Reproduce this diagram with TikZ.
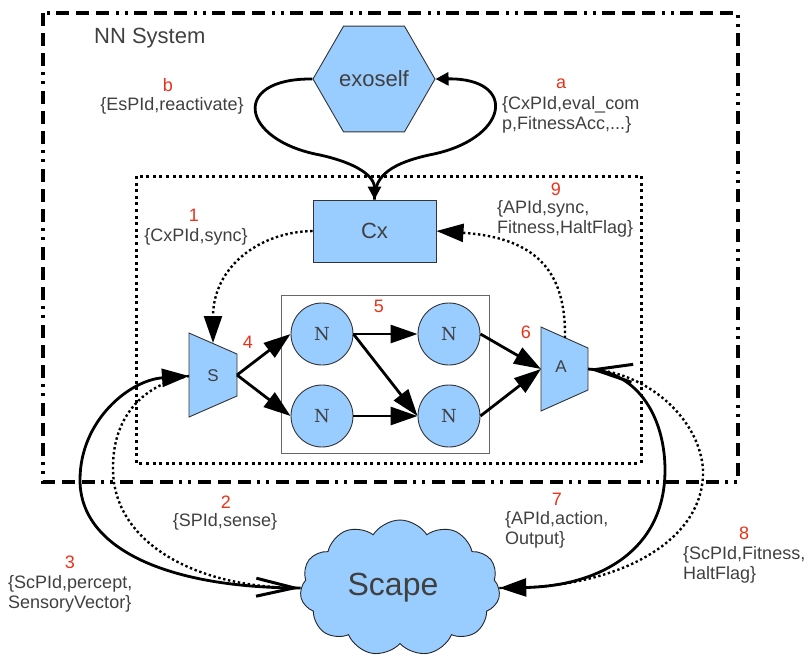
\documentclass[tikz,border=0pt]{standalone}
\usepackage{fontspec}
\setmainfont{Liberation Sans}
\newfontfamily\nfont{DejaVu Serif}
\usetikzlibrary{arrows.meta,shapes.geometric,shapes.symbols}
\definecolor{boxblue}{HTML}{99CCFF}
\definecolor{txtgray}{HTML}{404040}
\definecolor{numred}{HTML}{E8321A}
\begin{document}
\begin{tikzpicture}[x=1pt,y=-1pt,
  shapeline/.style={draw=black!80,line width=0.9pt,fill=boxblue},
  lbl/.style={text=txtgray,font=\fontsize{18}{20}\selectfont,inner sep=0pt,align=left},
  num/.style={text=numred,font=\fontsize{18}{20}\selectfont,inner sep=0pt,anchor=base},
  conn/.style={line width=2.8pt},
  dotconn/.style={line width=2.4pt,dash pattern=on 2.4pt off 2.6pt},
  bighead/.style={-{Triangle[length=27pt,width=18pt]}},
  smallhead/.style={-{Triangle[length=13pt,width=13pt]}},
  openhead/.style={-{Straight Barb[length=38pt,width=18pt,line width=3pt]}},
]
\useasboundingbox (0,0) rectangle (809,657);

% NN system frame and the inner agent frame
\draw[line width=3.4pt,dash pattern=on 13pt off 7pt on 13pt off 7pt on 13pt off 6pt on 3pt off 6pt on 3pt off 7pt]
  (43,13) rectangle (738,482);
\node[text=txtgray,font=\fontsize{22}{24}\selectfont,inner sep=0pt,anchor=base west] (title) at (94,43) {NN System};
\draw[line width=3pt,dash pattern=on 3pt off 3.6pt] (136,176) rectangle (641,463);

% neural network box
\draw[draw=black!60,line width=1pt] (281,295) rectangle (489,453);

% exoself and cortex
\node[shapeline,regular polygon,regular polygon sides=6,minimum size=122pt,inner sep=0pt,
      text=txtgray,font=\fontsize{22}{24}\selectfont] (exo) at (374,79) {exoself};
\node[shapeline,rectangle,minimum width=123pt,minimum height=62pt,inner sep=0pt,
      text=txtgray,font=\fontsize{22}{24}\selectfont] (cx) at (374.5,231) {Cx};

% sensor and actuator
\filldraw[shapeline] (189,333) -- (237,354) -- (237,396) -- (189,417) -- cycle;
\node[text=txtgray,font=\fontsize{17}{19}\selectfont,inner sep=0pt,anchor=base] (S) at (213,381) {S};
\coordinate (S-e) at (237,375);
\coordinate (S-w) at (189,376);
\coordinate (S-n) at (213,343);
\filldraw[shapeline] (541,327) -- (588,348) -- (588,390) -- (541,411) -- cycle;
\node[text=txtgray,font=\fontsize{17}{19}\selectfont,inner sep=0pt,anchor=base] (A) at (561,372) {A};
\coordinate (A-w) at (541,369);
\coordinate (A-e) at (588,369);
\coordinate (A-n) at (565,338);

% neurons
\foreach \nm/\px/\py in {n1/322/334,n2/449/334,n3/322/416,n4/449/416}
  \node[shapeline,circle,minimum size=62pt,inner sep=0pt,text=txtgray,
        font=\nfont\fontsize{18}{20}\selectfont] (\nm) at (\px,\py) {N};

% scape
\node[shapeline,draw=black!85,cloud,cloud puffs=11,cloud puff arc=115,aspect=1.47,
      minimum width=200pt,minimum height=136pt,inner sep=0pt,
      text=txtgray,font=\fontsize{32}{34}\selectfont] (scape) at (400,588) {Scape\hspace*{14pt}};

% exoself <-> cortex
\draw[conn,smallhead] (exo.west) .. controls (230,78) and (240,140) .. (320,155)
  .. controls (365,165) and (374.5,180) .. (cx.north);
\draw[conn,smallhead] (cx.north) .. controls (374.5,180) and (384,165) .. (429,155)
  .. controls (509,140) and (519,78) .. (exo.east);

% cortex -> sensor, actuator -> cortex
\draw[dotconn,bighead] (cx.west) .. controls (258,232) and (213,268) .. (S-n);
\draw[dotconn,bighead] (A-n) .. controls (566,275) and (540,238) .. (cx.east);

% forward signal flow
\draw[conn,bighead] (S-e) -- (n1.west);
\draw[conn,bighead] (S-e) -- (n3.west);
\draw[conn,bighead] (n1.east) -- (n2.west);
\draw[conn,bighead] (n1.east) -- (n4.west);
\draw[conn,bighead] (n3.east) -- (n4.west);
\draw[conn,bighead] (n2.east) -- (A-w);
\draw[conn,bighead] (n4.east) -- (A-w);

% sensor <-> scape
\draw[dotconn,openhead] (S-w) .. controls (140,385) and (112,420) .. (113,470)
  .. controls (114,540) and (190,586) .. (scape.west);
\draw[conn,bighead] (scape.west) .. controls (170,588) and (80,550) .. (80,480)
  .. controls (80,420) and (130,380) .. (S-w);

% actuator <-> scape
\draw[conn,bighead] (A-e) .. controls (640,372) and (665,420) .. (665,470)
  .. controls (665,550) and (600,586) .. (scape.east);
\draw[dotconn,openhead] (scape.east) .. controls (620,590) and (705,540) .. (703,470)
  .. controls (700,420) and (650,375) .. (A-e);

% message labels (multi-line labels are anchored on their last line)
\node[num] (lb) at (168,91) {b};
\node[lbl,anchor=base] (tb) at (172,110) {\{EsPId,reactivate\}};
\node[num] (la) at (561,88) {a};
\node[lbl,anchor=base west] (ta) at (502,129) {\{CxPId,eval\_com\\p,FitnessAcc,...\}};
\node[num] (l1) at (194,221) {1};
\node[lbl,anchor=base] (t1) at (196,241) {\{CxPId,sync\}};
\node[num] (l9) at (556,195) {9};
\node[lbl,anchor=base west] (t9) at (497,233) {\{APId,sync,\\Fitness,HaltFlag\}};
\node[num] (l4) at (248,348) {4};
\node[num] (l5) at (379,312) {5};
\node[num] (l6) at (526,338) {6};
\node[num] (l2) at (226,508) {2};
\node[lbl,anchor=base] (t2) at (225,526) {\{SPId,sense\}};
\node[num] (l3) at (70,568) {3};
\node[lbl,anchor=base west] (t3) at (8,608) {\{ScPId,percept,\\SensoryVector\}};
\node[num] (l7) at (557,505) {7};
\node[lbl,anchor=base west] (t7) at (505,544) {\{APId,action,\\Output\}};
\node[num] (l8) at (744,539) {8};
\node[lbl,anchor=base west] (t8) at (683,579) {\{ScPId,Fitness,\\HaltFlag\}};
\end{tikzpicture}
\end{document}
